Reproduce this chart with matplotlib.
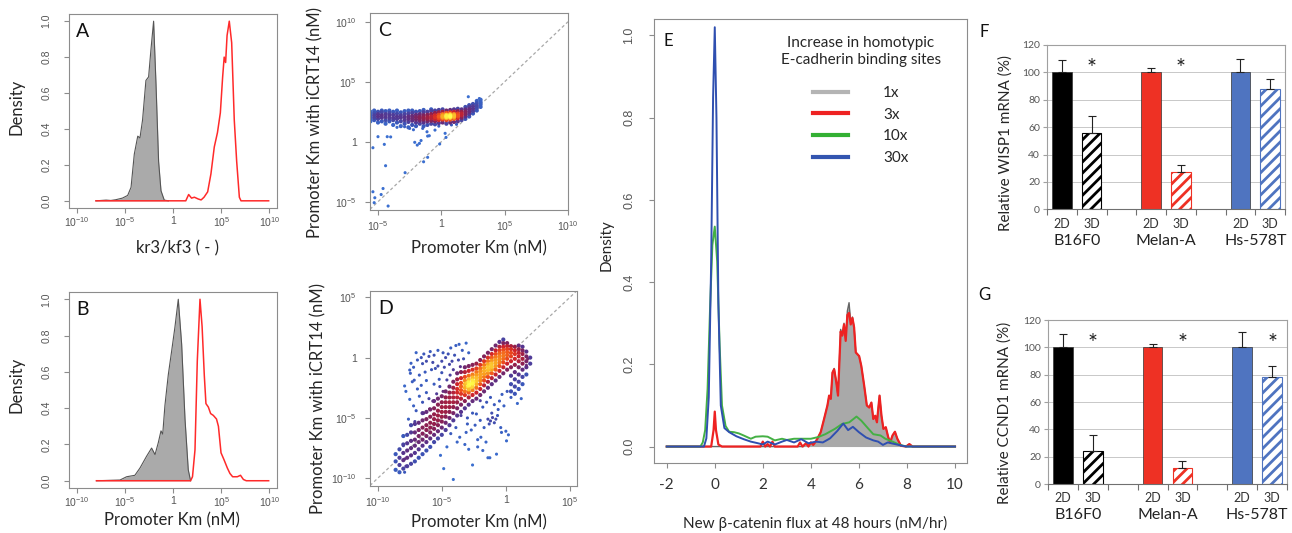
import numpy as np
import matplotlib
matplotlib.use('Agg')
import matplotlib.pyplot as plt
from matplotlib.colors import LinearSegmentedColormap
from matplotlib.lines import Line2D

plt.rcParams['font.family'] = ['Lato', 'DejaVu Sans']
plt.rcParams['mathtext.fontset'] = 'custom'
plt.rcParams['mathtext.rm'] = 'Liberation Sans'
plt.rcParams['hatch.linewidth'] = 2.0

# ---------------- data ----------------
# A: density of kr3/kf3 (x in log10)
a_gray_x = [-8.05, -7.0, -6.5, -6.0, -5.3, -4.75, -4.4, -4.06, -3.7, -3.47, -3.2, -2.85, -2.57,
            -2.33, -2.05, -1.8, -1.53, -1.28, -0.94, -0.5]
a_gray_y = [0, 0.004, 0.002, 0.006, 0.015, 0.03, 0.075, 0.26, 0.36, 0.35, 0.45, 0.67, 0.69,
            0.84, 1.0, 0.65, 0.22, 0.056, 0.004, 0]
a_red_x = [-8.05, 1.3, 1.6, 1.9, 2.2, 2.6, 2.9, 3.2, 3.58, 3.92, 4.27, 4.6, 4.9, 5.14, 5.3,
           5.45, 5.6, 5.83, 6.08, 6.35, 6.6, 6.88, 7.05, 9.93]
a_red_y = [0, 0, 0.035, 0.015, 0.02, 0.01, 0.005, 0.02, 0.05, 0.15, 0.3, 0.38, 0.49, 0.69, 0.8,
           0.77, 0.92, 1.0, 0.88, 0.45, 0.22, 0.02, 0, 0]

# B: density of promoter Km (x in log10 nM)
b_gray_x = [-8.0, -5.55, -4.86, -4.0, -3.47, -2.78, -2.26, -1.9, -1.56, -1.28, -1.1, -0.87,
            -0.52, -0.17, 0.17, 0.52, 0.87, 1.22, 1.56, 1.8]
b_gray_y = [0, 0.004, 0.022, 0.03, 0.07, 0.135, 0.18, 0.144, 0.21, 0.275, 0.257, 0.415,
            0.584, 0.715, 0.846, 1.0, 0.753, 0.34, 0.06, 0.0]
b_red_x = [-8.0, 1.8, 2.0, 2.26, 2.5, 2.78, 3.0, 3.23, 3.4, 3.65, 3.89, 4.17, 4.5, 4.7, 4.97,
           5.28, 5.63, 5.9, 6.18, 6.67, 7.0, 7.3, 7.6, 9.93]
b_red_y = [0, 0, 0.022, 0.17, 0.66, 1.0, 0.85, 0.58, 0.425, 0.406, 0.37, 0.36, 0.34, 0.3,
           0.154, 0.116, 0.07, 0.04, 0.022, 0.022, 0.03, 0.007, 0, 0]

# C: promoter Km vs Km with iCRT14 (log10); dense band as columns (x, [y...])
c_band = [
    (-5.6, [1.7, 1.9, 2.1, 2.3, 2.5]), (-5.3, [1.8, 2.0, 2.2, 2.4, 2.6]),
    (-5.0, [1.6, 1.9, 2.1, 2.3, 2.5]), (-4.7, [1.7, 2.0, 2.2, 2.45, 2.6]),
    (-4.4, [1.5, 1.8, 2.05, 2.3, 2.55]), (-4.1, [1.7, 1.95, 2.2, 2.4, 2.6]),
    (-3.8, [1.4, 1.8, 2.0, 2.25, 2.5]), (-3.5, [1.6, 1.9, 2.1, 2.35, 2.6]),
    (-3.2, [1.3, 1.7, 2.0, 2.2, 2.45]), (-2.9, [1.5, 1.8, 2.05, 2.3, 2.55]),
    (-2.6, [1.2, 1.65, 1.9, 2.1, 2.35, 2.6]), (-2.3, [1.4, 1.75, 1.95, 2.15, 2.4, 2.6]),
    (-2.0, [1.3, 1.6, 1.85, 2.05, 2.25, 2.5]), (-1.7, [1.5, 1.75, 1.95, 2.1, 2.3, 2.55]),
    (-1.4, [1.3, 1.6, 1.85, 2.0, 2.2, 2.45, 2.65]), (-1.1, [1.4, 1.7, 1.9, 2.05, 2.25, 2.5]),
    (-0.8, [1.5, 1.75, 1.95, 2.1, 2.3, 2.55, 2.7]), (-0.5, [1.45, 1.7, 1.9, 2.05, 2.2, 2.4, 2.6]),
    (-0.2, [1.55, 1.8, 1.95, 2.1, 2.25, 2.45, 2.65]),
    (0.1, [1.6, 1.85, 2.0, 2.1, 2.2, 2.3, 2.5, 2.7]),
    (0.4, [1.5, 1.8, 1.95, 2.05, 2.15, 2.25, 2.4, 2.6]),
    (0.7, [1.6, 1.85, 2.0, 2.1, 2.2, 2.3, 2.45, 2.65]),
    (1.0, [1.65, 1.9, 2.0, 2.1, 2.2, 2.3, 2.5, 2.7]),
    (1.3, [1.7, 1.95, 2.1, 2.2, 2.35, 2.55, 2.75]), (1.6, [1.8, 2.0, 2.2, 2.35, 2.5, 2.7]),
    (1.9, [1.9, 2.1, 2.3, 2.5, 2.7, 2.9]), (2.2, [2.1, 2.3, 2.5, 2.7, 2.9, 3.05]),
    (2.5, [2.35, 2.55, 2.75, 2.95, 3.15]), (2.8, [2.6, 2.8, 3.0, 3.2, 3.4]),
    (3.1, [2.9, 3.1, 3.3, 3.5]),
]
c_scatter = [(-5.0, 0.42), (-4.27, 0.42), (-4.0, 0.4), (-4.5, -0.22), (-5.4, -0.5), (-5.67, -0.8),
             (-4.4, -2.0), (-2.86, -2.58), (-2.1, -0.05), (-1.9, -0.28), (-1.73, -0.14), (-1.6, 0.1),
             (-1.08, -1.3), (-1.4, -1.67), (-0.13, -0.19), (0.37, 0.36), (0.3, 0.7), (-1.08, 0.47),
             (-0.95, 0.5), (-1.47, 1.11), (-1.13, 0.83), (-2.5, 1.11), (-2.9, 1.25), (-0.5, 0.97),
             (-5.4, -4.17), (-5.25, -4.67), (-4.75, -4.4), (-4.6, -3.9), (-5.3, -5.08), (-4.2, -5.36),
             (2.13, 3.75), (3.0, 3.6), (-3.5, 1.2), (-2.2, 1.0), (-0.2, 1.3), (0.8, 1.4), (1.2, 1.45)]

# D: same, second condition
d_band = [
    (-8.6, [-9.3, -8.6, -8.0]), (-8.3, [-9.5, -8.9, -8.3, -7.6]),
    (-8.0, [-9.2, -8.5, -7.9, -7.2, -6.5]), (-7.7, [-9.0, -8.3, -7.7, -7.1, -6.4]),
    (-7.4, [-8.8, -8.1, -7.5, -6.9, -6.2, -5.6]), (-7.1, [-8.6, -7.9, -7.3, -6.8, -6.2, -5.5]),
    (-6.8, [-8.3, -7.6, -7.0, -6.5, -6.0, -5.4]), (-6.5, [-8.0, -7.3, -6.8, -6.3, -5.8, -5.2, -4.6]),
    (-6.2, [-7.7, -7.0, -6.5, -6.0, -5.6, -5.1, -4.5]), (-5.9, [-7.4, -6.7, -6.2, -5.8, -5.4, -4.9, -4.3]),
    (-5.6, [-7.0, -6.4, -5.9, -5.5, -5.1, -4.7, -4.2, -3.6]),
    (-5.3, [-6.7, -6.1, -5.6, -5.2, -4.8, -4.4, -3.9, -3.4]),
    (-5.0, [-6.4, -5.8, -5.3, -4.9, -4.5, -4.1, -3.7, -3.2]),
    (-4.7, [-6.0, -5.4, -4.9, -4.5, -4.1, -3.7, -3.3, -2.8]),
    (-4.4, [-5.6, -5.0, -4.5, -4.1, -3.7, -3.3, -2.9, -2.4]),
    (-4.1, [-5.2, -4.6, -4.1, -3.7, -3.3, -2.9, -2.5, -2.0]),
    (-3.8, [-4.8, -4.2, -3.7, -3.3, -2.9, -2.6, -2.2, -1.8, -1.3]),
    (-3.5, [-4.5, -3.9, -3.4, -3.0, -2.7, -2.4, -2.1, -1.7, -1.2]),
    (-3.2, [-4.2, -3.6, -3.1, -2.8, -2.5, -2.2, -1.9, -1.6, -1.2, -0.8]),
    (-2.9, [-3.9, -3.3, -2.9, -2.6, -2.3, -2.05, -1.8, -1.5, -1.1, -0.7]),
    (-2.6, [-3.6, -3.1, -2.7, -2.4, -2.15, -1.9, -1.65, -1.4, -1.0, -0.6]),
    (-2.3, [-3.4, -2.9, -2.5, -2.2, -1.95, -1.7, -1.45, -1.2, -0.9, -0.5]),
    (-2.0, [-3.1, -2.6, -2.2, -1.9, -1.65, -1.4, -1.15, -0.9, -0.6, -0.2]),
    (-1.7, [-2.8, -2.3, -1.9, -1.6, -1.35, -1.1, -0.85, -0.6, -0.3, 0.1]),
    (-1.4, [-2.5, -2.0, -1.6, -1.3, -1.05, -0.8, -0.55, -0.3, 0.0, 0.4]),
    (-1.1, [-2.2, -1.7, -1.3, -1.0, -0.75, -0.5, -0.25, 0.0, 0.3, 0.7]),
    (-0.8, [-1.9, -1.4, -1.0, -0.7, -0.45, -0.2, 0.05, 0.3, 0.6, 1.0]),
    (-0.5, [-1.6, -1.1, -0.7, -0.4, -0.15, 0.1, 0.35, 0.6, 0.9, 1.3]),
    (-0.2, [-1.3, -0.8, -0.4, -0.1, 0.15, 0.4, 0.65, 0.9, 1.2, 1.5]),
    (0.1, [-1.0, -0.5, -0.1, 0.2, 0.45, 0.7, 0.95, 1.2]),
    (0.4, [-2.8, -2.2, -1.5, -0.8, -0.3, 0.1, 0.4, 0.7, 0.95]),
    (0.7, [-3.0, -2.4, -1.8, -1.2, -0.6, -0.1, 0.3, 0.6, 0.9]),
    (1.0, [-2.6, -2.0, -1.4, -0.8, -0.3, 0.1, 0.4, 0.7, 1.0]),
    (1.3, [-2.2, -1.6, -1.0, -0.5, -0.1, 0.3, 0.6, 0.9]),
    (1.6, [-1.4, -0.8, -0.3, 0.1, 0.5]), (1.9, [-0.5, 0.0]),
]
d_core = [(-3.0, -2.4), (-2.8, -2.2), (-2.7, -2.5), (-2.5, -2.0), (-3.1, -2.1), (-2.9, -2.7),
          (-1.3, -1.0), (-1.1, -0.8), (-1.2, -0.6)]
d_scatter = [(-7.5, -1.03), (-7.45, -1.3), (-7.4, -0.47), (-7.0, 0.41), (-6.6, 0.0), (-6.2, -0.3),
             (-5.9, 0.5), (-5.6, 0.2), (-5.3, 0.6), (-5.0, -0.3), (-4.7, 0.0), (-4.3, 0.8), (-3.9, 1.0),
             (-3.65, 1.1), (-3.1, 1.2), (-4.4, -0.56), (-4.2, -0.3), (-7.15, -1.87), (-6.75, -1.45),
             (-6.5, -0.5), (-7.9, -2.35), (-7.8, -2.8), (-6.6, -2.3), (-6.2, -1.9), (-5.8, -1.0),
             (-5.5, -0.9), (-5.3, -0.7), (-5.0, -1.25), (-7.5, -3.46), (-7.2, -4.0), (-7.0, -4.4),
             (-6.75, -3.2), (-6.5, -3.7), (-6.2, -2.9), (-5.95, -4.25), (-5.4, -3.0), (-5.15, -2.4),
             (-4.9, -2.8), (-4.6, -1.85), (-4.35, -1.45), (-4.1, -1.0), (-3.55, -0.75), (-7.6, -5.1),
             (-8.0, -7.3), (-7.9, -8.4), (-7.9, -9.5), (-7.8, -9.0), (-4.85, -9.2), (-4.1, -10.1),
             (-2.6, -8.9), (-6.9, -0.2), (-6.0, 0.1), (-5.7, -0.4), (-4.9, 0.4), (-4.5, 0.3),
             (-3.4, 0.6), (-3.3, -0.1), (-2.9, 0.4), (-6.4, 0.3), (-7.2, -0.8), (-6.3, -1.2),
             (-4.8, -0.8), (-4.0, 0.2), (-3.7, -0.2), (-5.2, -1.8), (-5.6, -2.2), (-6.0, -3.4),
             (-6.9, -2.6), (-7.3, -2.0), (-5.7, -3.6), (-6.4, -4.6), (-7.1, -5.3), (-6.8, -6.0),
             (-4.3, -6.3), (-3.9, -5.8), (-3.6, -6.6), (-3.2, -7.2), (-4.6, -7.4), (-5.1, -8.1),
             (-3.0, -5.5), (-2.7, -6.0), (-3.5, -4.8), (-3.0, -5.0), (-2.6, -4.6), (-2.4, -5.6),
             (-3.1, -6.2), (-2.2, -6.8), (-2.9, -7.6), (-3.8, -7.0),
             (-2.0, -3.57), (-1.8, -4.1), (-1.5, -3.7), (-2.3, -4.67), (-2.0, -5.2), (-1.4, -5.1),
             (-1.2, -5.25), (-1.04, -4.97), (-0.9, -5.4), (-0.78, -5.1), (-1.3, -5.5), (-0.65, -4.8),
             (-1.2, -3.3), (-0.9, -3.9), (-0.5, -3.6), (-0.3, -3.05), (-0.15, -4.0), (0.1, -2.8),
             (0.4, -3.3), (-0.4, -5.8), (0.0, -6.1), (0.2, -6.4), (-1.7, -5.8), (-1.95, -6.6),
             (-1.55, -7.0), (-1.8, -7.7), (-1.4, -8.3), (-2.2, -7.4), (-0.73, -8.0), (-0.34, -6.2),
             (0.05, -6.9), (-1.25, -8.3), (1.6, -0.64), (1.7, -0.1), (1.2, -3.4), (0.9, -3.8),
             (-1.1, -4.6), (-0.6, -4.3)]

# E: density of new beta-catenin flux
e_gray_x = [-2, 3.7, 3.8, 3.9, 4.0, 4.1, 4.2, 4.27, 4.41, 4.55, 4.69, 4.76, 4.83, 4.9, 4.97, 5.06,
            5.13, 5.24, 5.31, 5.38, 5.45, 5.52, 5.59, 5.66, 5.73, 5.8, 5.87, 6.01, 6.1, 6.22, 6.33,
            6.43, 6.52, 6.6, 6.68, 6.75, 6.86, 6.94, 7.02, 7.12, 7.22, 7.3, 7.4, 7.5, 7.6, 7.75,
            7.96, 8.1, 8.23, 10]
e_gray_y = [0, 0, 0.008, 0.002, 0.01, 0.004, 0.012, 0.019, 0.035, 0.067, 0.1, 0.124, 0.116, 0.18,
            0.19, 0.156, 0.124, 0.285, 0.27, 0.3, 0.26, 0.33, 0.35, 0.3, 0.315, 0.29, 0.229, 0.22,
            0.196, 0.148, 0.1, 0.095, 0.107, 0.067, 0.075, 0.059, 0.124, 0.075, 0.043, 0.047,
            0.023, 0.01, 0.027, 0.036, 0.019, 0.002, 0, 0.006, 0, 0]
e_red_x = [-2, -0.15, -0.05, 0.0, 0.05, 0.15, 0.3, 1.9, 2.0, 2.1, 2.2, 2.3, 2.4, 2.5, 2.6, 3.45,
           3.55, 3.65, 3.8, 3.9, 4.0, 4.1, 4.2, 4.27, 4.41, 4.55, 4.69, 4.76, 4.83, 4.9, 4.97, 5.06,
           5.13, 5.24, 5.31, 5.38, 5.45, 5.52, 5.59, 5.66, 5.73, 5.8, 5.87, 6.01, 6.1, 6.22, 6.33,
           6.43, 6.52, 6.6, 6.68, 6.75, 6.86, 6.94, 7.02, 7.12, 7.22, 7.3, 7.4, 7.5, 7.6, 7.75,
           7.96, 8.1, 8.23, 10]
e_red_y = [0, 0, 0.04, 0.085, 0.04, 0.005, 0, 0, 0.012, 0, 0.006, 0, 0.012, 0, 0, 0, 0.01, 0,
           0.008, 0, 0.01, 0.004, 0.012, 0.019, 0.035, 0.067, 0.1, 0.124, 0.116, 0.18, 0.188,
           0.156, 0.124, 0.28, 0.27, 0.297, 0.257, 0.32, 0.325, 0.297, 0.313, 0.29, 0.229, 0.22,
           0.196, 0.148, 0.1, 0.095, 0.107, 0.067, 0.075, 0.059, 0.124, 0.075, 0.043, 0.047,
           0.023, 0.01, 0.027, 0.036, 0.019, 0.002, 0, 0.006, 0, 0]
e_green_x = [-2, -0.6, -0.5, -0.4, -0.3, -0.2, -0.1, 0.0, 0.1, 0.2, 0.3, 0.45, 0.6, 0.8, 1.0, 1.2,
             1.5, 1.7, 2.0, 2.2, 2.5, 2.8, 3.0, 3.3, 3.6, 4.0, 4.3, 4.6, 5.0, 5.3, 5.6, 5.9, 6.1,
             6.4, 6.6, 6.9, 7.1, 7.4, 7.7, 8.0, 10]
e_green_y = [0, 0, 0.01, 0.04, 0.14, 0.33, 0.49, 0.535, 0.45, 0.25, 0.1, 0.05, 0.036, 0.035,
             0.032, 0.027, 0.019, 0.024, 0.025, 0.024, 0.015, 0.019, 0.016, 0.019, 0.019, 0.019,
             0.023, 0.03, 0.043, 0.055, 0.059, 0.073, 0.063, 0.043, 0.03, 0.027, 0.019, 0.012,
             0.004, 0, 0]
e_blue_x = [-2, -0.45, -0.35, -0.25, -0.15, -0.07, 0.0, 0.07, 0.15, 0.25, 0.4, 0.6, 0.9, 1.2, 1.5,
            1.8, 2.0, 2.2, 2.5, 2.8, 3.0, 3.3, 3.6, 3.9, 4.2, 4.5, 4.8, 5.1, 5.35, 5.55, 5.75, 6.0,
            6.3, 6.6, 6.8, 7.0, 7.2, 7.5, 7.8, 8.0, 10]
e_blue_y = [0, 0, 0.02, 0.12, 0.45, 0.85, 1.02, 0.8, 0.35, 0.1, 0.045, 0.035, 0.025, 0.018,
            0.012, 0.008, 0.005, 0.012, 0.005, 0.012, 0.016, 0.01, 0.018, 0.008, 0.012, 0.01,
            0.02, 0.038, 0.056, 0.04, 0.048, 0.035, 0.022, 0.015, 0.012, 0.004, 0.01, 0.006,
            0.002, 0, 0]
e_legend = ['1x', '3x', '10x', '30x']

# F / G: relative mRNA (%)
groups = ['B16F0', 'Melan-A', 'Hs-578T']
conds = ['2D', '3D']
wisp1_mean = [100, 56, 100, 27.5, 100, 87.5]
wisp1_err = [9, 12, 3, 4.5, 10, 7.5]
wisp1_star = [False, True, False, True, False, False]
ccnd1_mean = [100, 24.5, 100, 12, 100, 78.5]
ccnd1_err = [9.5, 11.5, 2.5, 4.5, 11, 7.5]
ccnd1_star = [False, True, False, True, False, True]
group_colors = ['#000000', '#ee3124', '#4f74c0']

# ---------------- drawing ----------------
W, H = 1292, 533
fig = plt.figure(figsize=(W / 100, H / 100), dpi=100)


def rect(l, t, r, b):
    return [l / W, 1 - b / H, (r - l) / W, (b - t) / H]


TICKC = '#555555'
FRAMEC = '#8c8c8c'
LABC = '#262626'
heat = LinearSegmentedColormap.from_list(
    'heat', ['#3b6fd0', '#3a55b8', '#5a3088', '#8e1f4e', '#d0242a', '#f0501c', '#f9a01e', '#ffff4a'])


def r_style(ax, xpad=3, ypad=8):
    for s in ax.spines.values():
        s.set_color(FRAMEC)
        s.set_linewidth(0.8)
    ax.tick_params(color=FRAMEC, length=3.5, width=0.8, labelcolor=TICKC, labelsize=7.5)
    ax.tick_params(axis='x', pad=xpad)
    ax.tick_params(axis='y', pad=ypad)
    for t in ax.get_xticklabels() + ax.get_yticklabels():
        t.set_fontfamily('Liberation Sans')


def log_labels(vals):
    return ['1' if v == 0 else r'$\mathregular{10^{%d}}$' % v for v in vals]


def density_panel(ax, gx, gy, rx, ry, letter):
    ax.fill_between(gx, gy, color='#aaaaaa', lw=0)
    ax.plot(gx, gy, color='#555555', lw=0.8)
    ax.plot(rx, ry, color='#ff2a2a', lw=1.1)
    ax.set_xlim(-10.86, 10.8)
    ax.set_ylim(-0.04, 1.04)
    ticks = [-10, -5, 0, 5, 10]
    ax.set_xticks(ticks)
    ax.set_xticklabels(log_labels(ticks))
    yt = [0, 0.2, 0.4, 0.6, 0.8, 1.0]
    ax.set_yticks(yt)
    ax.set_yticklabels(['%.1f' % v for v in yt], rotation=90, va='center')
    r_style(ax, xpad=2, ypad=9)
    ax.text(0.035, 0.91, letter, transform=ax.transAxes, fontsize=14, ha='left', va='center',
            color='#111111')


def expand(cols):
    xs, ys = [], []
    for x, yl in cols:
        for y in yl:
            xs.append(x)
            ys.append(y)
    return xs, ys


def scatter_panel(ax, cols, extra, h, gamma, lims, ticks, letter):
    bx, by = expand(cols)
    ex = [p[0] for p in extra]
    ey = [p[1] for p in extra]
    x = np.array(bx + ex)
    y = np.array(by + ey)
    sizes = np.array([9.0] * len(bx) + [5.0] * len(ex))
    d2 = (x[:, None] - x[None, :]) ** 2 + (y[:, None] - y[None, :]) ** 2
    dens = np.exp(-d2 / (2 * h * h)).sum(1)
    v = (dens - dens.min()) / (dens.max() - dens.min())
    v = v ** gamma
    order = np.argsort(v)
    ax.axline((0, 0), slope=1, color='#a8a8a8', lw=0.9, ls=(0, (2.5, 2)), zorder=1)
    ax.scatter(x[order], y[order], c=v[order], cmap=heat, vmin=0, vmax=1, s=sizes[order], lw=0,
               marker='o', zorder=2)
    ax.set_xlim(lims[0])
    ax.set_ylim(lims[1])
    ax.set_xticks(ticks[0])
    ax.set_xticklabels(log_labels(ticks[0]))
    ax.set_yticks(ticks[1])
    ax.set_yticklabels(log_labels(ticks[1]))
    r_style(ax, ypad=6)
    ax.text(0.04, 0.91, letter, transform=ax.transAxes, fontsize=14, ha='left', va='center',
            color='#111111')


# A
axA = fig.add_axes(rect(69, 14, 277, 208))
density_panel(axA, a_gray_x, a_gray_y, a_red_x, a_red_y, 'A')
fig.text(17 / W, 1 - 107 / H, 'Density', rotation=90, ha='center', va='center', fontsize=12, color=LABC)
fig.text(177 / W, 1 - 248 / H, 'kr3/kf3 ( - )', ha='center', va='center', fontsize=12, color=LABC)

# B
axB = fig.add_axes(rect(69, 292, 277, 488))
density_panel(axB, b_gray_x, b_gray_y, b_red_x, b_red_y, 'B')
fig.text(17 / W, 1 - 385 / H, 'Density', rotation=90, ha='center', va='center', fontsize=12, color=LABC)
fig.text(172 / W, 1 - 520 / H, 'Promoter Km (nM)', ha='center', va='center', fontsize=12, color=LABC)

# C
axC = fig.add_axes(rect(370, 13, 568, 210))
scatter_panel(axC, c_band, c_scatter, 0.4, 2.4, [(-5.63, 10.0), (-5.69, 10.73)],
              [[-5, 0, 5, 10], [-5, 0, 5, 10]], 'C')
fig.text(315 / W, 1 - 122 / H, 'Promoter Km with iCRT14 (nM)', rotation=90, ha='center',
         va='center', fontsize=12, color=LABC)
fig.text(479 / W, 1 - 248 / H, 'Promoter Km (nM)', ha='center', va='center', fontsize=12, color=LABC)

# D
axD = fig.add_axes(rect(370, 291, 577, 486))
scatter_panel(axD, d_band, d_core + d_scatter, 0.55, 1.25, [(-10.6, 5.55), (-10.64, 5.52)],
              [[-10, -5, 0, 5], [-10, -5, 0, 5]], 'D')
fig.text(318 / W, 1 - 398 / H, 'Promoter Km with iCRT14 (nM)', rotation=90, ha='center',
         va='center', fontsize=12, color=LABC)
fig.text(479 / W, 1 - 522 / H, 'Promoter Km (nM)', ha='center', va='center', fontsize=12, color=LABC)

# E
axE = fig.add_axes(rect(654, 19, 967, 463))
axE.fill_between(e_gray_x, e_gray_y, color='#a9a9a9', lw=0)
axE.plot(e_gray_x, e_gray_y, color='#666666', lw=1.0)
axE.plot(e_red_x, e_red_y, color='#ee2222', lw=1.6)
axE.plot(e_green_x, e_green_y, color='#44b044', lw=1.4)
axE.plot(e_blue_x, e_blue_y, color='#2f4fb0', lw=1.4)
axE.set_xlim(-2.53, 10.5)
axE.set_ylim(-0.04, 1.04)
xt = [-2, 0, 2, 4, 6, 8, 10]
axE.set_xticks(xt)
axE.set_xticklabels([str(v) for v in xt])
yt = [0, 0.2, 0.4, 0.6, 0.8, 1.0]
axE.set_yticks(yt)
axE.set_yticklabels(['%.1f' % v for v in yt], rotation=90, va='center')
r_style(axE, xpad=7, ypad=10)
axE.tick_params(axis='x', labelsize=11, labelcolor='#333333')
axE.tick_params(axis='y', labelsize=9)
for t in axE.get_xticklabels():
    t.set_fontfamily(['Lato', 'DejaVu Sans'])
axE.text(0.029, 0.95, 'E', transform=axE.transAxes, fontsize=12, ha='left', va='center', color='#111111')
handles = [Line2D([], [], color=c, lw=3) for c in ['#b4b4b4', '#ee2222', '#33b033', '#3355b0']]
leg = axE.legend(handles, e_legend, title='Increase in homotypic\nE-cadherin binding sites',
                 frameon=False, loc='upper center', bbox_to_anchor=(0.66, 0.985), fontsize=11,
                 handlelength=2.3, handletextpad=2.3, labelspacing=0.5, borderpad=0.2)
leg.get_title().set_fontsize(11)
leg.get_title().set_multialignment('center')
leg.get_title().set_color('#262626')
for t in leg.get_texts():
    t.set_color('#262626')
leg._legend_box.sep = 14
fig.text(607 / W, 1 - 245 / H, 'Density', rotation=90, ha='center', va='center', fontsize=11, color=LABC)
fig.text(815 / W, 1 - 523 / H, 'New \u03b2-catenin flux at 48 hours (nM/hr)', ha='center',
         va='center', fontsize=11, color=LABC)


# F / G
def bar_panel(ax, means, errs, stars, ylabel, ylab_xy, letter, letter_xy):
    for s in ax.spines.values():
        s.set_color('#a0a0a0')
        s.set_linewidth(0.8)
    ax.spines['bottom'].set_color('#707070')
    ax.yaxis.grid(True, color='#c8c8c8', lw=0.7)
    ax.set_axisbelow(True)
    centers = []
    for gi in range(len(groups)):
        col = group_colors[gi]
        for ci in range(len(conds)):
            k = gi * 2 + ci
            xc = gi * 3 + ci + 0.5
            centers.append(xc)
            if ci == 0:
                ax.bar(xc, means[k], width=0.66, color=col, edgecolor='#333333', lw=0.5, zorder=2)
            else:
                ax.bar(xc, means[k], width=0.66, color='white', edgecolor=col, hatch='///',
                       lw=0.8, zorder=2)
            ax.errorbar(xc, means[k], yerr=[[0], [errs[k]]], fmt='none', ecolor='#222222',
                        elinewidth=0.8, capsize=3, capthick=0.8, zorder=3)
            if stars[k]:
                ax.text(xc, 103, '*', ha='center', va='center', fontsize=17, color='#222222')
    ax.set_xlim(0, 3 * len(groups) - 1)
    ax.set_ylim(0, 120)
    ax.set_yticks(range(0, 121, 20))
    ax.set_xticks(range(0, 3 * len(groups)))
    ax.set_xticklabels([])
    ax.set_xticks(centers, minor=True)
    ax.set_xticklabels(conds * len(groups), minor=True)
    ax.tick_params(axis='x', which='major', length=4, color='#707070')
    ax.tick_params(axis='x', which='minor', length=0, pad=6, labelsize=9, labelcolor='#333333')
    ax.tick_params(axis='y', length=3, color='#a0a0a0', labelsize=7.5, labelcolor='#555555', pad=2)
    for gi, g in enumerate(groups):
        ax.text(gi * 3 + 1, -0.19, g, transform=ax.get_xaxis_transform(), ha='center',
                va='center', fontsize=11.5, color='#222222')
    fig.text(ylab_xy[0] / W, 1 - ylab_xy[1] / H, ylabel, rotation=90, ha='center', va='center',
             fontsize=11, color=LABC)
    fig.text(letter_xy[0] / W, 1 - letter_xy[1] / H, letter, ha='center', va='center',
             fontsize=12, color='#111111')


axF = fig.add_axes(rect(1047, 45, 1285, 209.3))
bar_panel(axF, wisp1_mean, wisp1_err, wisp1_star, 'Relative WISP1 mRNA (%)', (1006, 143), 'F', (984, 32))
axG = fig.add_axes(rect(1048, 320, 1287, 484))
bar_panel(axG, ccnd1_mean, ccnd1_err, ccnd1_star, 'Relative CCND1 mRNA (%)', (1005, 413), 'G', (984, 295))

fig.savefig('out.png', dpi=100)
